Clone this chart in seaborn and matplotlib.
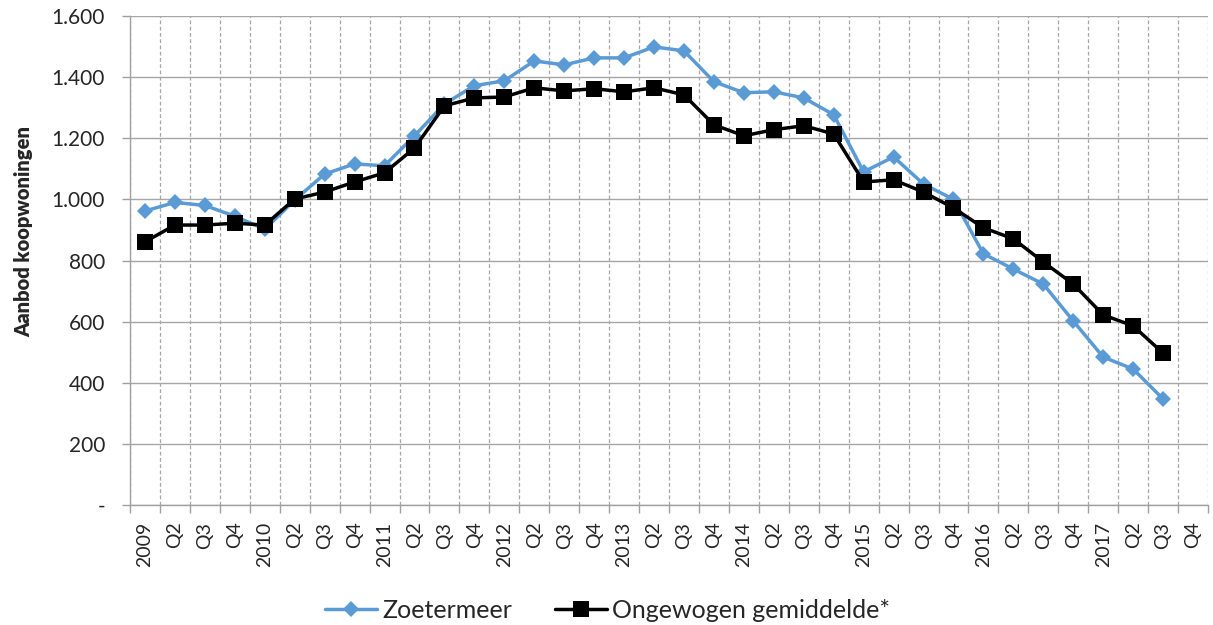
import pandas as pd
import matplotlib
matplotlib.use("Agg")
import matplotlib.pyplot as plt
import seaborn as sns
from matplotlib.ticker import FuncFormatter, MultipleLocator, FixedLocator

# categories: quarters 2009 - 2017
years = ["2009", "2010", "2011", "2012", "2013", "2014", "2015", "2016", "2017"]
quarter_labels = []
for y in years:
    quarter_labels += [y, "Q2", "Q3", "Q4"]

zoetermeer = [962, 990, 980, 945, 902, 998, 1083, 1116, 1110, 1208, 1312, 1372,
              1388, 1453, 1440, 1463, 1463, 1499, 1486, 1385, 1349, 1352, 1332, 1277,
              1090, 1139, 1050, 1000, 822, 772, 723, 602, 484, 445, 347]
gemiddelde = [861, 916, 916, 922, 916, 1001, 1024, 1057, 1087, 1168, 1306, 1332,
              1335, 1365, 1355, 1362, 1352, 1365, 1342, 1244, 1208, 1228, 1241, 1214,
              1057, 1064, 1024, 972, 907, 871, 795, 723, 622, 586, 497]

df = pd.DataFrame({
    "pos": list(range(len(zoetermeer))),
    "Zoetermeer": zoetermeer,
    "Ongewogen gemiddelde*": gemiddelde,
})

sns.set_theme(style="white")
plt.rcParams["font.family"] = ["Lato", "DejaVu Sans"]

fig = plt.figure(figsize=(12.13, 6.25), dpi=100)
ax = fig.add_axes([130 / 1213, 1 - 505 / 625, 1078 / 1213, 489 / 625])

sns.lineplot(data=df, x="pos", y="Zoetermeer", ax=ax, color="#5b9bd5",
             linewidth=2.5, marker="D", markersize=8, markeredgewidth=0,
             label="Zoetermeer", zorder=3)
sns.lineplot(data=df, x="pos", y="Ongewogen gemiddelde*", ax=ax, color="black",
             linewidth=2.5, marker="s", markersize=11, markeredgewidth=0,
             label="Ongewogen gemiddelde*", zorder=4)

ax.set_xlim(-0.5, len(quarter_labels) - 0.5)
ax.set_ylim(0, 1600)
ax.yaxis.set_major_locator(MultipleLocator(200))
ax.yaxis.set_major_formatter(FuncFormatter(
    lambda v, p: "-" if v == 0 else f"{int(v):,}".replace(",", ".")))

ax.set_xticks(range(len(quarter_labels)))
ax.set_xticklabels(quarter_labels, rotation=90)
ax.xaxis.set_minor_locator(FixedLocator([i + 0.5 for i in range(-1, len(quarter_labels))]))
ax.tick_params(axis="x", which="major", length=0, pad=12, labelsize=14)
ax.tick_params(axis="x", which="minor", length=6, color="#a0a0a0", width=1)
ax.tick_params(axis="y", which="major", length=6, color="#a0a0a0", width=1,
               labelsize=15, pad=12)
ax.yaxis.set_ticks_position("left")
ax.xaxis.set_ticks_position("bottom")

ax.grid(True, axis="y", which="major", color="#a6a6a6", linewidth=1)
ax.grid(True, axis="x", which="minor", color="#a6a6a6", linewidth=0.9, linestyle=(0, (3, 2)))
ax.grid(False, axis="x", which="major")
ax.set_axisbelow(True)

for side in ["top", "right"]:
    ax.spines[side].set_visible(False)
for side in ["left", "bottom"]:
    ax.spines[side].set_color("#a0a0a0")
    ax.spines[side].set_linewidth(1)

ax.set_xlabel("")
ax.set_ylabel("Aanbod koopwoningen", fontsize=14.5, fontweight="heavy")
ax.yaxis.set_label_coords(-0.09, 0.56)

ax.legend(loc="center", bbox_to_anchor=(0.443, -0.215), ncol=2, frameon=False,
          fontsize=18, handlelength=2.1, columnspacing=1.7, handletextpad=0.2)

fig.savefig("out.png", dpi=100)
